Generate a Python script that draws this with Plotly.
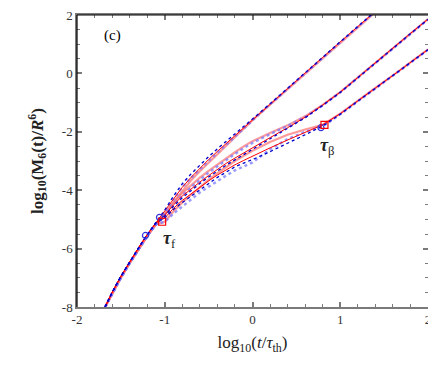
import plotly.graph_objects as go

# shared short-time part (before the curves split)
x_early = [-1.68, -1.6, -1.5, -1.4, -1.3, -1.2, -1.1]
y_early_thin = [-8.0, -7.5, -6.95, -6.45, -5.98, -5.52, -5.12]
y_early_thick = [-8.0, -7.55, -7.0, -6.5, -6.02, -5.57, -5.17]

x_late = [-1.0, -0.9, -0.8, -0.7, -0.6, -0.5, -0.4, -0.3, -0.2, -0.1, 0.0,
          0.2, 0.4, 0.6, 0.8, 1.0, 1.2, 1.4, 1.6, 1.8, 2.0]

# upper branch
up_red = [-4.72, -4.3, -3.9, -3.56, -3.25, -2.95, -2.67, -2.4, -2.12, -1.85, -1.58,
          -1.05, -0.52, 0.02, 0.55, 1.08, 1.62, 2.15, 2.68, 3.2, 3.7]
up_blue = [-4.68, -4.2, -3.78, -3.44, -3.13, -2.85, -2.58, -2.33, -2.07, -1.82, -1.56,
           -1.04, -0.52, 0.02, 0.55, 1.08, 1.62, 2.15, 2.68, 3.2, 3.7]
up_red_l = [-4.85, -4.42, -4.02, -3.66, -3.35, -3.06, -2.76, -2.47, -2.17, -1.88, -1.6,
            -1.07, -0.54, 0.0, 0.54, 1.07, 1.6, 2.13, 2.66, 3.18, 3.68]
up_blue_l = [-4.75, -4.3, -3.9, -3.58, -3.28, -3.0, -2.72, -2.44, -2.15, -1.87, -1.59,
             -1.06, -0.53, 0.01, 0.55, 1.08, 1.61, 2.14, 2.67, 3.19, 3.69]

# middle branch
mid_red = [-4.85, -4.5, -4.2, -3.95, -3.72, -3.5, -3.28, -3.08, -2.9, -2.72, -2.54,
           -2.2, -1.86, -1.5, -1.08, -0.64, -0.14, 0.37, 0.87, 1.37, 1.86]
mid_blue = [-4.88, -4.55, -4.26, -4.0, -3.77, -3.55, -3.34, -3.14, -2.96, -2.78, -2.6,
            -2.26, -1.9, -1.52, -1.1, -0.65, -0.15, 0.36, 0.86, 1.36, 1.85]
mid_red_l = [-4.8, -4.42, -4.1, -3.82, -3.57, -3.34, -3.12, -2.9, -2.7, -2.5, -2.32,
             -2.04, -1.78, -1.47, -1.08, -0.64, -0.14, 0.37, 0.87, 1.37, 1.86]
mid_blue_l = [-4.85, -4.5, -4.18, -3.9, -3.64, -3.4, -3.18, -2.96, -2.76, -2.56, -2.38,
              -2.08, -1.8, -1.49, -1.09, -0.65, -0.15, 0.36, 0.86, 1.36, 1.85]

# lower branch
low_red = [-4.95, -4.62, -4.35, -4.12, -3.9, -3.68, -3.48, -3.3, -3.13, -2.98, -2.83,
           -2.55, -2.28, -2.02, -1.76, -1.38, -0.93, -0.5, -0.07, 0.37, 0.82]
low_blue = [-4.95, -4.66, -4.42, -4.2, -3.98, -3.76, -3.56, -3.38, -3.2, -3.07, -2.95,
            -2.68, -2.4, -2.1, -1.8, -1.4, -0.95, -0.51, -0.08, 0.36, 0.81]
low_red_l = [-5.08, -4.72, -4.42, -4.16, -3.9, -3.65, -3.42, -3.2, -3.0, -2.82, -2.65,
             -2.35, -2.1, -1.92, -1.76, -1.38, -0.93, -0.5, -0.07, 0.37, 0.82]
low_blue_l = [-5.08, -4.8, -4.55, -4.3, -4.08, -3.88, -3.68, -3.5, -3.32, -3.18, -3.05,
              -2.6, -2.25, -2.0, -1.82, -1.4, -0.95, -0.51, -0.08, 0.36, 0.81]

# tau markers
sq_x = [-1.03, 0.82]
sq_y = [-5.08, -1.76]
circ_x = [-1.22, -1.06, 0.78]
circ_y = [-5.55, -4.93, -1.86]

x_ticks = [-2, -1, 0, 1, 2]
x_ticklabels = ["-2", "-1", "0", "1", "2"]
y_ticks = [-8, -6, -4, -2, 0, 2]
y_ticklabels = ["-8", "-6", "-4", "-2", "0", "2"]

SERIF = "Liberation Serif"
AX_GRAY = "#7a7a7a"

fig = go.Figure()

x_all = x_early + x_late
thick = dict(red=dict(color="rgba(255,110,110,0.7)", width=2.2),
             blue=dict(color="rgba(120,120,255,0.75)", width=2.4, dash="dot"))
thin = dict(red=dict(color="#ff0000", width=1.0),
            blue=dict(color="#0000cc", width=1.3, dash="dot"))

for ys in [up_red_l, mid_red_l, low_red_l]:
    fig.add_trace(go.Scatter(x=x_all, y=y_early_thick + ys, mode="lines", line=thick["red"]))
for ys in [up_blue_l, mid_blue_l, low_blue_l]:
    fig.add_trace(go.Scatter(x=x_all, y=y_early_thick + ys, mode="lines", line=thick["blue"]))
for ys in [up_red, mid_red, low_red]:
    fig.add_trace(go.Scatter(x=x_all, y=y_early_thin + ys, mode="lines", line=thin["red"]))
for ys in [up_blue, mid_blue, low_blue]:
    fig.add_trace(go.Scatter(x=x_all, y=y_early_thin + ys, mode="lines", line=thin["blue"]))

fig.add_trace(go.Scatter(x=circ_x, y=circ_y, mode="markers",
                         marker=dict(symbol="circle-open", size=6, color="#3333dd", line=dict(width=1.2))))
fig.add_trace(go.Scatter(x=sq_x, y=sq_y, mode="markers",
                         marker=dict(symbol="square-open", size=7, color="#ff0000", line=dict(width=1.2))))

# black left/top frame lines
fig.add_shape(type="line", xref="paper", yref="paper", x0=0, x1=0, y0=0, y1=1,
              line=dict(color="black", width=1.2))
fig.add_shape(type="line", xref="paper", yref="paper", x0=0, x1=1, y0=1, y1=1,
              line=dict(color="black", width=1.2))

fig.add_annotation(x=-1.72, y=1.3, text="(c)", showarrow=False, xanchor="left",
                   font=dict(family=SERIF, size=15, color="black"))
fig.add_annotation(x=-0.95, y=-5.7, text="<b><i>τ</i></b><sub>f</sub>", showarrow=False,
                   font=dict(family=SERIF, size=18, color="#222"))
fig.add_annotation(x=0.85, y=-2.5, text="<b><i>τ</i></b><sub>β</sub>", showarrow=False,
                   font=dict(family=SERIF, size=18, color="#222"))

axis_common = dict(
    showgrid=False, zeroline=False, showline=True, linecolor=AX_GRAY, linewidth=1.5,
    mirror="allticks", ticks="inside", ticklen=5, tickwidth=1.5, tickcolor=AX_GRAY,
    tickfont=dict(family=SERIF, size=13, color="#333"), automargin=False,
    ticklabeloverflow="allow",
)

# page body adds 8px around the figure, so the figure is 8px smaller on each side
fig.update_layout(
    width=428, height=358,
    margin=dict(l=69, r=8, t=7, b=59),
    paper_bgcolor="white", plot_bgcolor="white",
    showlegend=False,
    xaxis=dict(range=[-2, 2], tickvals=x_ticks, ticktext=x_ticklabels,
               minor=dict(ticks="inside", dtick=0.2, tick0=-2, ticklen=3, tickcolor=AX_GRAY, tickwidth=1.2),
               title=dict(text="log<sub>10</sub>(<i>t</i>/<i>τ</i><sub>th</sub>)",
                          font=dict(family=SERIF, size=17, color="#222"), standoff=10),
               **axis_common),
    yaxis=dict(range=[-8, 2], tickvals=y_ticks, ticktext=y_ticklabels,
               minor=dict(ticks="inside", dtick=0.5, tick0=-8, ticklen=3, tickcolor=AX_GRAY, tickwidth=1.2),
               title=dict(text="<b>log<sub>10</sub>(M<sub>6</sub>(t)/<i>R</i><sup>6</sup>)</b>",
                          font=dict(family=SERIF, size=17, color="#222"), standoff=14),
               **axis_common),
)

fig.write_html("out.html")
